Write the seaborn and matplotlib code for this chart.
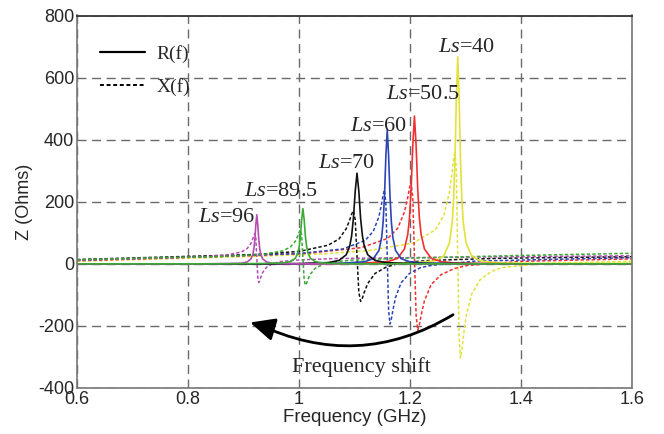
import numpy as np
import pandas as pd
import matplotlib
matplotlib.use("Agg")
import matplotlib.pyplot as plt
import seaborn as sns
from matplotlib.lines import Line2D

# ---- values (GHz, Ohms) ----
f96 = [0.6, 0.75, 0.82, 0.868, 0.896, 0.9065, 0.9135, 0.917, 0.91875, 0.9205, 0.92225, 0.924,
       0.92575, 0.9275, 0.92925, 0.931, 0.9345, 0.9415, 0.952, 0.966, 0.994, 1.064, 1.2, 1.4, 1.6]
r96 = [0, 0, 0, 1, 2, 6, 16, 32, 49, 79, 126, 158,
       126, 79, 49, 32, 16, 6, 2, 1, 0, 0, 0, 0, 0]
x96 = [12, 19, 22, 28, 38, 49, 66, 82, 92, 98, 82, 19,
       -44, -60, -54, -44, -28, -11, 0, 7, 12, 17, 20, 23, 26]

f895 = [0.6, 0.75, 0.85, 0.935, 0.971, 0.9845, 0.9935, 0.998, 1.0003, 1.0025, 1.0048, 1.007,
        1.0093, 1.0115, 1.0138, 1.016, 1.0205, 1.0295, 1.043, 1.061, 1.097, 1.187, 1.4, 1.6]
r895 = [0, 0, 0, 1, 3, 7, 18, 36, 55, 89, 142, 178,
        142, 89, 55, 36, 18, 7, 3, 1, 0, 0, 0, 0]
x895 = [13, 20, 23, 30, 42, 54, 73, 91, 102, 109, 91, 20,
        -51, -69, -62, -51, -33, -14, -2, 6, 12, 18, 27, 34]

f70 = [0.6, 0.8, 0.92, 1.0005, 1.0525, 1.072, 1.085, 1.0915, 1.0948, 1.098, 1.1013, 1.1045,
       1.1078, 1.111, 1.1143, 1.1175, 1.124, 1.137, 1.1565, 1.1825, 1.2345, 1.3645, 1.5, 1.6]
r70 = [0, 0, 0, 1, 4, 11, 29, 58, 90, 146, 234, 292,
       234, 146, 90, 58, 29, 11, 4, 2, 1, 0, 0, 0]
x70 = [14, 24, 30, 40, 60, 80, 113, 142, 160, 171, 142, 25,
       -92, -121, -110, -92, -63, -31, -11, 3, 11, 18, 21, 23]

f60 = [0.6, 0.85, 0.999, 1.079, 1.119, 1.134, 1.144, 1.149, 1.1515, 1.154, 1.1565, 1.159,
       1.1615, 1.164, 1.1665, 1.169, 1.174, 1.184, 1.199, 1.219, 1.239, 1.319, 1.6]
r60 = [0, 0, 0, 2, 7, 17, 43, 86, 133, 216, 346, 432,
       346, 216, 133, 86, 43, 17, 7, 3, 2, 0, 0]
x60 = [12, 24, 33, 48, 75, 105, 152, 195, 221, 238, 195, 22,
       -151, -194, -177, -151, -108, -61, -31, -12, -5, 9, 20]

f505 = [0.6, 0.9, 1.016, 1.112, 1.16, 1.178, 1.19, 1.196, 1.199, 1.202, 1.205, 1.208,
        1.211, 1.214, 1.217, 1.22, 1.226, 1.238, 1.256, 1.28, 1.304, 1.4, 1.6]
r505 = [0, 0, 0, 2, 7, 18, 48, 95, 146, 238, 381, 476,
        381, 238, 146, 95, 48, 18, 7, 3, 2, 0, 0]
x505 = [10, 26, 34, 52, 82, 115, 167, 214, 244, 262, 214, 24,
        -166, -214, -196, -166, -119, -67, -35, -15, -5, 8, 16]

f40 = [0.6, 0.9, 1.046, 1.126, 1.206, 1.246, 1.261, 1.271, 1.276, 1.2785, 1.281, 1.2835, 1.286,
       1.2885, 1.291, 1.2935, 1.296, 1.301, 1.311, 1.326, 1.346, 1.366, 1.446, 1.6]
r40 = [0, 0, 0, 1, 3, 10, 26, 67, 133, 205, 333, 534, 667,
       534, 333, 205, 133, 67, 26, 10, 5, 3, 1, 2]
x40 = [8, 23, 32, 43, 67, 110, 157, 230, 297, 338, 363, 297, 30,
       -237, -303, -278, -237, -170, -98, -52, -25, -12, 2, 8]

ls_values = ["96", "89.5", "70", "60", "50.5", "40"]
label_f = [0.869, 0.968, 1.085, 1.143, 1.224, 1.302]
label_z = [148, 232, 322, 441, 544, 697]

curves = [(f96, r96, x96), (f895, r895, x895), (f70, r70, x70),
          (f60, r60, x60), (f505, r505, x505), (f40, r40, x40)]
colors = ["#b44cb4", "#3aaa35", "#111111", "#2b45b5", "#f03030", "#e2e23a"]

sns.set_theme(style="white")
plt.rcParams["font.family"] = ["Liberation Sans", "DejaVu Sans"]
plt.rcParams["axes.unicode_minus"] = False
plt.rcParams["mathtext.fontset"] = "custom"
plt.rcParams["mathtext.it"] = "Liberation Serif:italic"
plt.rcParams["mathtext.rm"] = "Liberation Serif"

fig = plt.figure(figsize=(6.64, 4.34), dpi=100)
ax = fig.add_axes([77 / 664, 46 / 434, 555 / 664, 372.5 / 434])

dash = (0, (2.2, 1.4))
# dashed X(f) first, then solid R(f); green on top at the baseline
order = [5, 4, 3, 2, 0, 1]
for i in order:
    f, r, x = curves[i]
    sns.lineplot(x=f, y=x, ax=ax, color=colors[i], lw=1.1, linestyle=dash,
                 estimator=None, sort=False)
for i in order:
    f, r, x = curves[i]
    sns.lineplot(x=f, y=r, ax=ax, color=colors[i], lw=1.2,
                 estimator=None, sort=False)

ax.set_xlim(0.6, 1.6)
ax.set_ylim(-400, 800)
ax.set_xticks([0.6, 0.8, 1.0, 1.2, 1.4, 1.6])
ax.set_xticklabels(["0.6", "0.8", "1", "1.2", "1.4", "1.6"])
ax.set_yticks([-400, -200, 0, 200, 400, 600, 800])
ax.tick_params(length=0, labelsize=13, pad=2)
ax.grid(True, color="#6a6a6a", linestyle=(0, (6.5, 4)), linewidth=1)
ax.set_xlabel("Frequency (GHz)", fontsize=13.5, labelpad=1)
ax.set_ylabel("Z (Ohms)", fontsize=13, labelpad=4)

for s in ["left", "right", "bottom"]:
    ax.spines[s].set_color("#777777")
    ax.spines[s].set_linewidth(1.2)
ax.spines["top"].set_color("#222222")
ax.spines["top"].set_linewidth(1.2)

for lsv, tf, tz in zip(ls_values, label_f, label_z):
    ax.text(tf, tz, r"$\mathit{Ls}$=" + lsv, ha="center", va="center",
            fontsize=16, family="Liberation Serif")

# curved shaft, then a short straight arrow for the head
ax.annotate("", xy=(0.925, -193), xytext=(1.2775, -164),
            arrowprops=dict(arrowstyle="-", connectionstyle="arc3,rad=-0.27",
                            color="black", lw=2, shrinkA=0, shrinkB=0))
ax.annotate("", xy=(0.912, -189), xytext=(0.95, -209),
            arrowprops=dict(arrowstyle="-|>,head_length=0.75,head_width=0.35",
                            color="black", lw=2, mutation_scale=20,
                            shrinkA=0, shrinkB=0))
ax.text(1.113, -332, "Frequency shift", ha="center", va="center",
        fontsize=16, family="Liberation Serif")

handles = [Line2D([], [], color="black", lw=1.6),
           Line2D([], [], color="black", lw=1.4, linestyle=(0, (2, 1.4)))]
ax.legend(handles, ["R(f)", "X(f)"], loc="upper left",
          bbox_to_anchor=(0.0415, 0.92), frameon=False, borderpad=0,
          borderaxespad=0, handlelength=2.3, handletextpad=0.6,
          labelspacing=0.75, prop={"family": "Liberation Serif", "size": 14})

fig.savefig("out.png", dpi=100)
